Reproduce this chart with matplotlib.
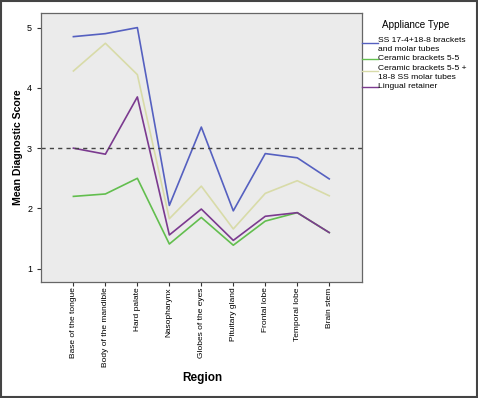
import matplotlib
matplotlib.use("Agg")
import matplotlib.pyplot as plt
from matplotlib.patches import Rectangle
from matplotlib.lines import Line2D
import numpy as np

plt.rcParams['font.family'] = ['Liberation Sans', 'DejaVu Sans']

# data
regions = ["Base of the tongue", "Body of the mandible", "Hard palate", "Nasopharynx",
           "Globes of the eyes", "Pituitary gland", "Frontal lobe", "Temporal lobe", "Brain stem"]
ss_brackets = [4.85, 4.90, 5.00, 2.05, 3.35, 1.96, 2.91, 2.84, 2.49]
ceramic = [2.20, 2.24, 2.50, 1.41, 1.85, 1.39, 1.79, 1.93, 1.60]
ceramic_ss = [4.28, 4.74, 4.22, 1.83, 2.37, 1.66, 2.25, 2.46, 2.21]
lingual = [3.00, 2.90, 3.85, 1.56, 1.99, 1.47, 1.87, 1.93, 1.60]
series_names = [["SS 17-4+18-8 brackets", "and molar tubes"], ["Ceramic brackets 5-5"],
                ["Ceramic brackets 5-5 +", "18-8 SS molar tubes"], ["Lingual retainer"]]
colors = ["#5560C0", "#62BE4E", "#D8DBA8", "#7B3A8F"]
ref_line = 3

W, H = 478, 398
fig = plt.figure(figsize=(W / 100, H / 100), dpi=100)
ax = fig.add_axes([0.086, 0.2915, 0.671, 0.6755])
ax.set_facecolor("#EBEBEB")

x = np.arange(len(regions))
for vals, c in zip([ss_brackets, ceramic, ceramic_ss, lingual], colors):
    ax.plot(x, vals, color=c, lw=1.2)

ax.axhline(ref_line, color="#444444", lw=1.0, ls=(0, (3, 3)))

ax.set_xlim(-1.01, 9.02)
ax.set_ylim(0.78, 5.24)
ax.set_yticks([1, 2, 3, 4, 5])
ax.set_xticks(x)
ax.set_xticklabels(regions, rotation=90, fontsize=6)
ax.tick_params(axis='y', labelsize=6.5, length=3, color="#333333")
ax.tick_params(axis='x', length=3, color="#333333", pad=1)
for s in ax.spines.values():
    s.set_color("#666666")
    s.set_linewidth(0.9)

fig.text(0.038, 0.63, "Mean Diagnostic Score", fontsize=7.6, fontweight="bold",
         rotation=90, ha="center", va="center")
fig.text(0.423, 0.05, "Region", fontsize=8.5, fontweight="bold", ha="center", va="center")

# legend laid out by hand (pixel rows from the top, like the SPSS output)
fig.text(382 / W, 1 - 25 / H, "Appliance Type", fontsize=7.1, ha="left", va="center")
y_px = 40
step = 9.4
for lines, c in zip(series_names, colors):
    n = len(lines)
    hy = y_px + (n - 1) * step * 0.35
    fig.add_artist(Line2D([362 / W, 378 / W], [1 - hy / H, 1 - hy / H], color=c, lw=1.0,
                          transform=fig.transFigure))
    for i, line in enumerate(lines):
        fig.text(378 / W, 1 - (y_px + i * step) / H, line, fontsize=6.1, ha="left", va="center")
    y_px += n * step

# outer frame of the figure
fig.patches.append(Rectangle((0.002, 0.003), 0.995, 0.994, transform=fig.transFigure,
                             fill=False, edgecolor="#444444", lw=1.5))

fig.savefig("out.png", dpi=100)
